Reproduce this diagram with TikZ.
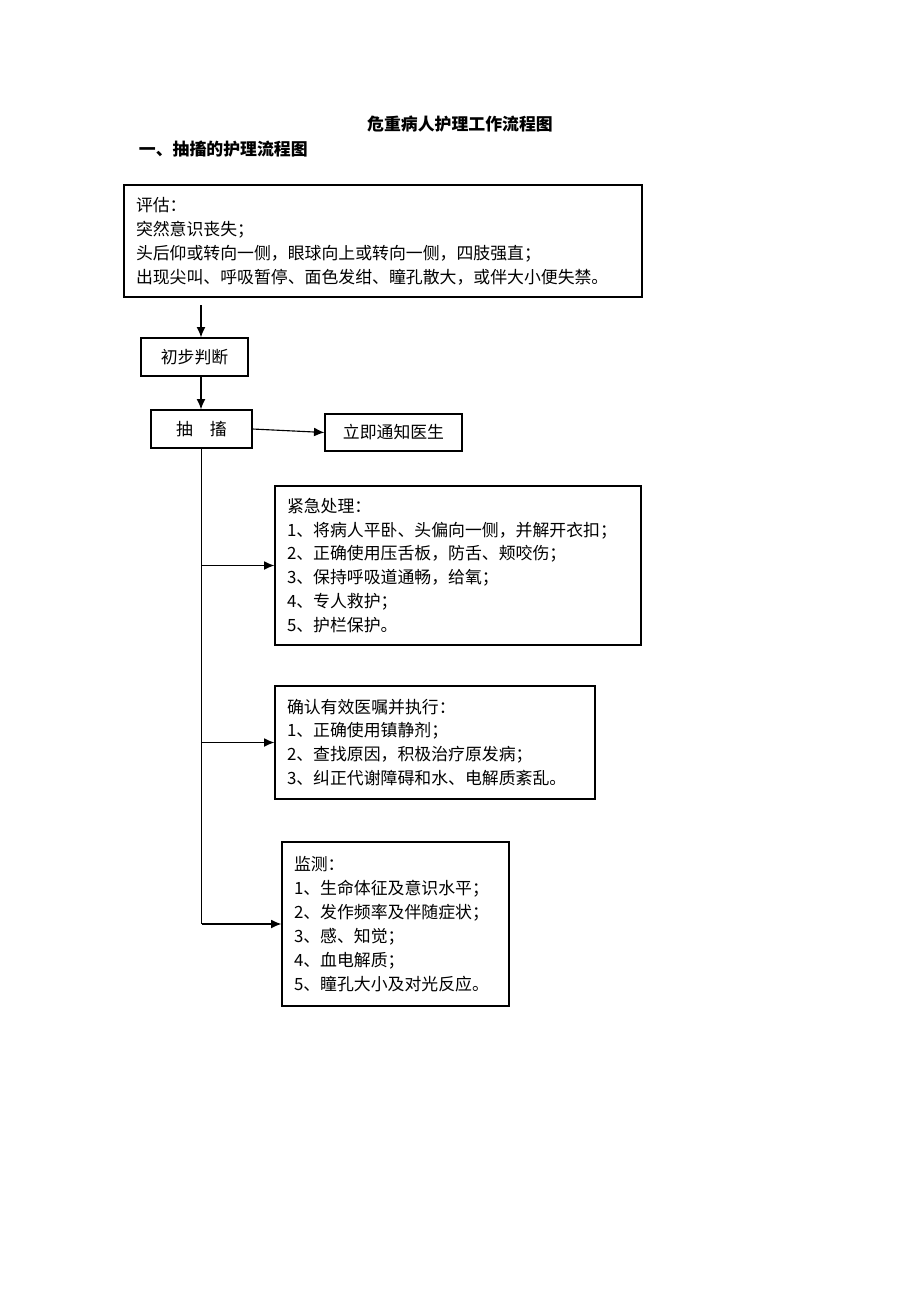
\documentclass[tikz,border=0pt]{standalone}
\usepackage{fontspec}
\setmainfont{Noto Sans CJK SC}
\usetikzlibrary{positioning, arrows.meta}

\begin{document}
\begin{tikzpicture}
\tikzset{
  arrow/.style={
    >={Latex[length=2.6mm, width=2.2mm]}
  },
  line/.style={
    draw,
    ->,
    thick,
  },
  box/.style={
    draw,
    thick,
    inner sep=0.3cm,
    align=left,
    font=\fontsize{12}{17}\selectfont
  },
  small/.style={
    draw,
    thick,
    align=center,
    font=\fontsize{12}{17}\selectfont
  },
  heading/.style={
    font=\fontsize{12}{15}\selectfont\bfseries
  }
}

\useasboundingbox (0,0) rectangle (23,-32.55);

% Titles
\node (title) [heading] at (11.5,-3.1) {危重病人护理工作流程图};
\node (sub) [heading, anchor=west] at (3.35,-3.725) {一、抽搐的护理流程图};

% Assessment
\node (assess) [box, text width=12.35cm, minimum height=2.8cm] at (9.575,-6.025)
  {评估：\\突然意识丧失；\\头后仰或转向一侧，眼球向上或转向一侧，四肢强直；\\出现尖叫、呼吸暂停、面色发绀、瞳孔散大，或伴大小便失禁。};
\coordinate (start) at (5.025,-7.625);

% Judgement
\node (judge) [small, minimum width=2.675cm, minimum height=0.95cm] at (4.8625,-8.925) {初步判断};
\node (seizure) [small, minimum width=2.525cm, minimum height=0.95cm] at (5.0375,-10.725) {抽\quad 搐};
\node (doctor) [small, minimum width=3.425cm, minimum height=0.925cm] at (9.8375,-10.8125) {立即通知医生};

% Measures
\node (urgent) [box, text width=8.55cm, minimum height=3.825cm] at (11.45,-14.1375)
  {紧急处理：\\1、将病人平卧、头偏向一侧，并解开衣扣；\\2、正确使用压舌板，防舌、颊咬伤；\\3、保持呼吸道通畅，给氧；\\4、专人救护；\\5、护栏保护。};
\node (orders) [box, text width=7.4cm, minimum height=2.825cm] at (10.875,-18.5625)
  {确认有效医嘱并执行：\\1、正确使用镇静剂；\\2、查找原因，积极治疗原发病；\\3、纠正代谢障碍和水、电解质紊乱。};
\node (monitor) [box, text width=5.075cm, minimum height=4.1cm] at (9.8875,-23.1)
  {监测：\\1、生命体征及意识水平；\\2、发作频率及伴随症状；\\3、感、知觉；\\4、血电解质；\\5、瞳孔大小及对光反应。};

% Connectors
\draw[line, arrow] (start) to (start |- judge.north);
\draw[line, arrow] (judge.south -| start) to (seizure.north -| start);
\draw[line, arrow] (seizure.east) to (doctor.west);
\draw[thick] (seizure.south) to (seizure.south |- monitor.west);
\draw[line, arrow] (seizure.south |- urgent.west) to (urgent.west);
\draw[line, arrow] (seizure.south |- orders.west) to (orders.west);
\draw[line, arrow] (seizure.south |- monitor.west) to (monitor.west);

\end{tikzpicture}
\end{document}
